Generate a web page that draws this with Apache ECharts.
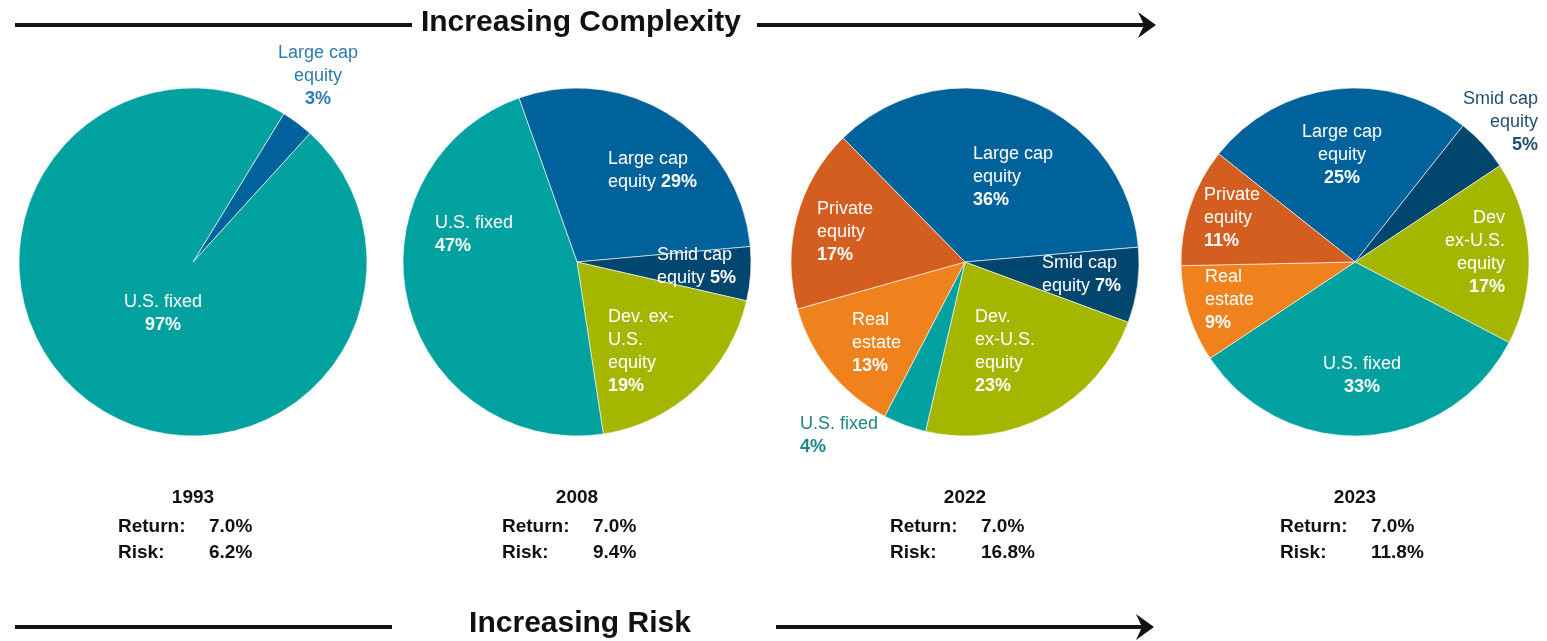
<!DOCTYPE html>
<html><head><meta charset="utf-8">
<script src="https://cdn.jsdelivr.net/npm/echarts@6/dist/echarts.min.js"></script>
<style>html,body{margin:0;padding:0;background:#fff}#c{width:1547px;height:641px}</style>
</head><body><div id="c"></div>
<script>
// ---- data ----
const years = ['1993', '2008', '2022', '2023'];
const returns = ['7.0%', '7.0%', '7.0%', '7.0%'];
const risks = ['6.2%', '9.4%', '16.8%', '11.8%'];

const cats1993 = ['Large cap equity', 'U.S. fixed'];
const vals1993 = [3, 97];
const text1993 = ['Large cap\nequity\n{v}', 'U.S. fixed\n{v}'];

const cats2008 = ['Large cap equity', 'Smid cap equity', 'Dev. ex-U.S. equity', 'U.S. fixed'];
const vals2008 = [29, 5, 19, 47];
const text2008 = ['Large cap\nequity {v}', 'Smid cap\nequity {v}', 'Dev. ex-\nU.S.\nequity\n{v}', 'U.S. fixed\n{v}'];

const cats2022 = ['Large cap equity', 'Smid cap equity', 'Dev. ex-U.S. equity', 'U.S. fixed', 'Real estate', 'Private equity'];
const vals2022 = [36, 7, 23, 4, 13, 17];
const text2022 = ['Large cap\nequity\n{v}', 'Smid cap\nequity {v}', 'Dev.\nex-U.S.\nequity\n{v}', 'U.S. fixed\n{v}', 'Real\nestate\n{v}', 'Private\nequity\n{v}'];

const cats2023 = ['Large cap equity', 'Smid cap equity', 'Dev ex-U.S. equity', 'U.S. fixed', 'Real estate', 'Private equity'];
const vals2023 = [25, 5, 17, 33, 9, 11];
const text2023 = ['Large cap\nequity\n{v}', 'Smid cap\nequity\n{v}', 'Dev\nex-U.S.\nequity\n{v}', 'U.S. fixed\n{v}', 'Real\nestate\n{v}', 'Private\nequity\n{v}'];

const topHeading = 'Increasing Complexity';
const bottomHeading = 'Increasing Risk';

// ---- styling / layout ----
const FONT = '"Liberation Sans", Arial, Helvetica, sans-serif';
const colorOf = {
  'Large cap equity': '#00629B',
  'Smid cap equity': '#00466F',
  'Dev. ex-U.S. equity': '#A4B600',
  'Dev ex-U.S. equity': '#A4B600',
  'U.S. fixed': '#00A19F',
  'Real estate': '#F0821D',
  'Private equity': '#D35E1F'
};
const CY = 262, R = 174;
// label placement relative to pie centre: [dx, dy, align, outsideColor]
const pies = [
  { cats: cats1993, vals: vals1993, texts: text1993, cx: 193, start: 58.5,
    place: [[125, -186, 'center', '#2E7BB0'], [-30, 52, 'center']] },
  { cats: cats2008, vals: vals2008, texts: text2008, cx: 577, start: 109.5,
    place: [[31, -91, 'left'], [80, 5, 'left'], [31, 90, 'left'], [-142, -27, 'left']] },
  { cats: cats2022, vals: vals2022, texts: text2022, cx: 965, start: 134.5,
    place: [[8, -85, 'left'], [77, 13, 'left'], [10, 90, 'left'], [-165, 174, 'left', '#1F8586'], [-113, 81, 'left'], [-148, -30, 'left']] },
  { cats: cats2023, vals: vals2023, texts: text2023, cx: 1355, start: 141.6,
    place: [[-13, -107, 'center'], [183, -140, 'right', '#24506F'], [150, -9, 'right'], [7, 114, 'center'], [-150, 38, 'left'], [-151, -44, 'left']] }
];

const series = pies.map(p => ({
  type: 'pie',
  center: [p.cx, CY],
  radius: R,
  startAngle: p.start,
  clockwise: true,
  silent: true,
  animation: false,
  avoidLabelOverlap: false,
  itemStyle: { borderColor: '#ffffff', borderWidth: 0.6 },
  label: {
    show: true, position: 'inside', color: '#ffffff',
    fontFamily: FONT, fontSize: 18, lineHeight: 23,
    formatter: prm => p.texts[prm.dataIndex].replace('{v}', '{b|' + prm.value + '%}'),
    rich: { b: { fontFamily: FONT, fontWeight: 'bold', fontSize: 18, lineHeight: 23 } }
  },
  labelLine: { show: false },
  labelLayout: prm => {
    const q = p.place[prm.dataIndex];
    return { x: p.cx + q[0], y: CY + q[1], align: q[2], verticalAlign: 'middle' };
  },
  data: p.cats.map((c, i) => {
    const d = { name: c, value: p.vals[i], itemStyle: { color: colorOf[c] } };
    const oc = p.place[i][3];
    if (oc) d.label = { color: oc, rich: { b: { color: oc, fontFamily: FONT, fontWeight: 'bold', fontSize: 18, lineHeight: 23 } } };
    return d;
  })
}));

const graphics = [];
const LINE = '#141414';
function arrowLine(x1, x2, y, head) {
  graphics.push({ type: 'line', shape: { x1: x1, y1: y, x2: x2, y2: y }, style: { stroke: LINE, lineWidth: 4 } });
  if (head) {
    graphics.push({ type: 'polygon', shape: { points: [[x2 - 12, y - 13], [x2 + 6, y], [x2 - 12, y + 13], [x2 - 6, y]] }, style: { fill: LINE } });
  }
}
arrowLine(15, 412, 25, false);
arrowLine(757, 1150, 25, true);
arrowLine(15, 392, 627, false);
arrowLine(776, 1148, 627, true);
graphics.push({ type: 'text', x: 581, y: 23, style: { text: topHeading, font: 'bold 30px ' + FONT, fill: '#111', textAlign: 'center', textVerticalAlign: 'middle' } });
graphics.push({ type: 'text', x: 580, y: 624, style: { text: bottomHeading, font: 'bold 30px ' + FONT, fill: '#111', textAlign: 'center', textVerticalAlign: 'middle' } });

pies.forEach((p, i) => {
  const f = 'bold 19px ' + FONT;
  graphics.push({ type: 'text', x: p.cx, y: 498, style: { text: years[i], font: f, fill: '#111', textAlign: 'center', textVerticalAlign: 'middle' } });
  graphics.push({ type: 'text', x: p.cx - 75, y: 527, style: { text: 'Return:', font: f, fill: '#111', textAlign: 'left', textVerticalAlign: 'middle' } });
  graphics.push({ type: 'text', x: p.cx + 16, y: 527, style: { text: returns[i], font: f, fill: '#111', textAlign: 'left', textVerticalAlign: 'middle' } });
  graphics.push({ type: 'text', x: p.cx - 75, y: 553, style: { text: 'Risk:', font: f, fill: '#111', textAlign: 'left', textVerticalAlign: 'middle' } });
  graphics.push({ type: 'text', x: p.cx + 16, y: 553, style: { text: risks[i], font: f, fill: '#111', textAlign: 'left', textVerticalAlign: 'middle' } });
});

const chart = echarts.init(document.getElementById('c'), null, { renderer: 'canvas' });
chart.setOption({
  backgroundColor: '#ffffff',
  animation: false,
  series: series,
  graphic: { elements: graphics }
});
</script>
</body></html>
